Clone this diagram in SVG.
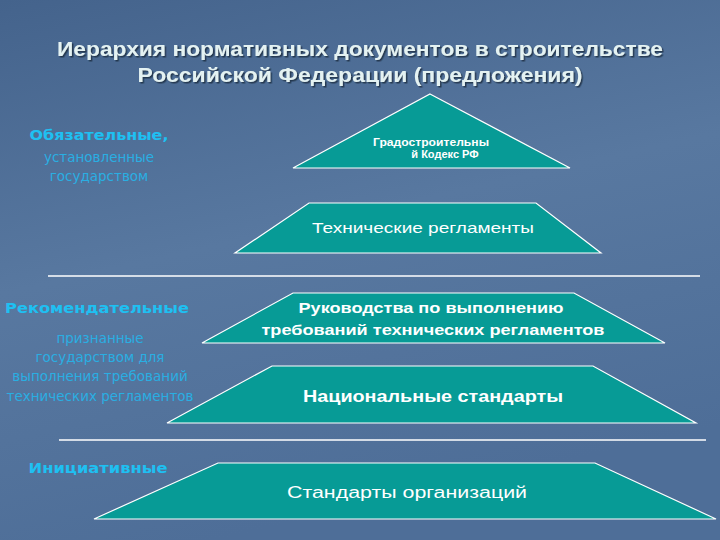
<svg xmlns="http://www.w3.org/2000/svg" width="720" height="540" viewBox="0 0 720 540">
<defs>
<linearGradient id="bg" x1="0" y1="0" x2="0.3" y2="1">
<stop offset="0" stop-color="#44638c"/>
<stop offset="0.5" stop-color="#5878a0"/>
<stop offset="1" stop-color="#4e6e98"/>
</linearGradient>
<filter id="sh" x="-5%" y="-20%" width="110%" height="150%">
<feDropShadow dx="1.5" dy="1.5" stdDeviation="0.6" flood-color="#1a2a40" flood-opacity="0.8"/>
</filter>
</defs>
<style>
.shape{fill:#079b96;stroke:#ffffff;stroke-width:1.2}
.sep{stroke:#ffffff;stroke-width:1.5}
.title{font-family:"Liberation Sans",Arial,sans-serif;font-weight:bold;font-size:20px;fill:#e4f2f2;text-anchor:middle}
.cat{font-family:"DejaVu Sans","Liberation Sans",sans-serif;font-weight:bold;font-size:14px;fill:#1ec0f2;text-anchor:middle}
.sub{font-family:"DejaVu Sans","Liberation Sans",sans-serif;font-size:13.5px;fill:#2aaee2;text-anchor:middle}
.in{font-family:"Liberation Sans",Arial,sans-serif;fill:#ffffff;text-anchor:middle}
</style>
<rect width="720" height="540" fill="url(#bg)"/>
<g id="title" filter="url(#sh)">
<text class="title" x="360" y="56" textLength="606" lengthAdjust="spacingAndGlyphs">Иерархия нормативных документов в строительстве</text>
<text class="title" x="360" y="82" textLength="445" lengthAdjust="spacingAndGlyphs">Российской Федерации (предложения)</text>
</g>
<g id="connectors">
<line class="sep" x1="48" y1="276" x2="700" y2="276"/>
<line class="sep" x1="59" y1="440" x2="706" y2="440"/>
</g>
<g id="label-mandatory">
<text class="cat" x="99" y="140" textLength="139" lengthAdjust="spacingAndGlyphs">Обязательные,</text>
<text class="sub" x="99" y="162">установленные</text>
<text class="sub" x="99" y="181">государством</text>
</g>
<g id="label-recommended">
<text class="cat" x="97" y="313" textLength="184" lengthAdjust="spacingAndGlyphs">Рекомендательные</text>
<text class="sub" x="100" y="343">признанные</text>
<text class="sub" x="100" y="362">государством для</text>
<text class="sub" x="100" y="381">выполнения требований</text>
<text class="sub" x="100" y="401">технических регламентов</text>
</g>
<g id="label-initiative">
<text class="cat" x="98" y="473" textLength="139" lengthAdjust="spacingAndGlyphs">Инициативные</text>
</g>
<g id="node-code">
<polygon class="shape" points="430,94 570,168 293,168"/>
<text class="in" x="431" y="146" font-size="11" font-weight="bold" textLength="116" lengthAdjust="spacingAndGlyphs">Градостроительны</text>
<text class="in" x="445" y="158" font-size="11" font-weight="bold">й Кодекс РФ</text>
</g>
<g id="node-techreg">
<polygon class="shape" points="309,203 536,203 601,253 235,253"/>
<text class="in" x="423" y="233" font-size="15" textLength="222" lengthAdjust="spacingAndGlyphs">Технические регламенты</text>
</g>
<g id="node-guides">
<polygon class="shape" points="293,293 574,293 665,343 202,343"/>
<text class="in" x="431" y="313" font-size="15.5" font-weight="bold" textLength="265" lengthAdjust="spacingAndGlyphs">Руководства по выполнению</text>
<text class="in" x="433" y="335" font-size="15.5" font-weight="bold" textLength="343" lengthAdjust="spacingAndGlyphs">требований технических регламентов</text>
</g>
<g id="node-national">
<polygon class="shape" points="272,366 593,366 696,423 167,423"/>
<text class="in" x="433" y="402" font-size="16" font-weight="bold" textLength="260" lengthAdjust="spacingAndGlyphs">Национальные стандарты</text>
</g>
<g id="node-org">
<polygon class="shape" points="218,463 595,463 716,519 94,519"/>
<text class="in" x="407" y="498" font-size="16" textLength="240" lengthAdjust="spacingAndGlyphs">Стандарты организаций</text>
</g>
</svg>
